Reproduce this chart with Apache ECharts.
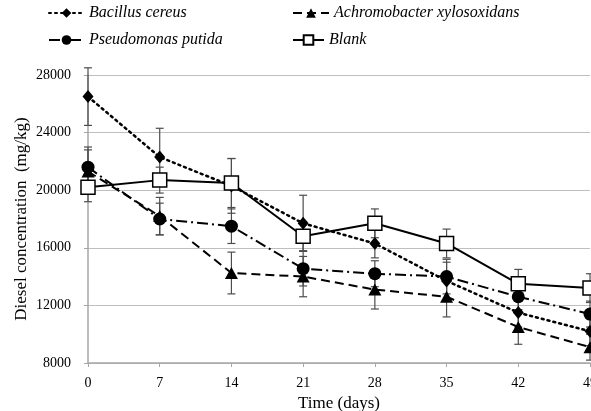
<!DOCTYPE html>
<html>
<head>
<meta charset="utf-8">
<script src="https://cdn.jsdelivr.net/npm/echarts@6/dist/echarts.min.js"></script>
<style>
  html, body { margin: 0; padding: 0; background: #fff; }
  #chart { width: 591px; height: 411px; }
</style>
</head>
<body>
<div id="chart"></div>
<script>
var days = ['0', '7', '14', '21', '28', '35', '42', '49'];
var yTicks = [8000, 12000, 16000, 20000, 24000, 28000];

var bacillus = [26500, 22300, 20300, 17700, 16300, 13700, 11500, 10200];
var bacillusErr = [2000, 2000, 1900, 1950, 1000, 1300, 1000, 1000];
var achromobacter = [21300, 18200, 14250, 14000, 13100, 12600, 10500, 9100];
var achromobacterErr = [1500, 1300, 1450, 1400, 1350, 1400, 1200, 900];
var pseudomonas = [21600, 18000, 17500, 14550, 14200, 14000, 12600, 11400];
var pseudomonasErr = [1400, 1100, 1200, 1200, 900, 1200, 900, 900];
var blank = [20200, 20700, 20500, 16800, 17700, 16300, 13500, 13200];
var blankErr = [1000, 900, 1700, 1000, 1000, 1000, 1000, 1000];

var font = 'Liberation Serif';

var chartDom = document.getElementById('chart');
var myChart = echarts.init(chartDom, null, { renderer: 'canvas' });

function errData(vals, errs) {
  return vals.map(function (v, i) { return [i, v - errs[i], v + errs[i]]; });
}

function errSeries(vals, errs) {
  return {
    type: 'custom',
    z: 1,
    silent: true,
    data: errData(vals, errs),
    encode: { x: 0, y: [1, 2] },
    renderItem: function (params, api) {
      var lo = api.coord([api.value(0), api.value(1)]);
      var hi = api.coord([api.value(0), api.value(2)]);
      var w = 4;
      var st = { stroke: '#4d4d4d', lineWidth: 1.2 };
      return {
        type: 'group',
        children: [
          { type: 'line', shape: { x1: lo[0], y1: lo[1], x2: hi[0], y2: hi[1] }, style: st },
          { type: 'line', shape: { x1: lo[0] - w, y1: lo[1], x2: lo[0] + w, y2: lo[1] }, style: st },
          { type: 'line', shape: { x1: hi[0] - w, y1: hi[1], x2: hi[0] + w, y2: hi[1] }, style: st }
        ]
      };
    }
  };
}

function legendAt(name, left, top, width) {
  return {
    data: [name],
    left: left,
    top: top,
    padding: 0,
    itemWidth: width,
    itemHeight: 12,
    selectedMode: false,
    textStyle: { fontFamily: font, fontStyle: 'italic', fontSize: 16, color: '#000' }
  };
}

var option = {
  backgroundColor: '#fff',
  animation: false,
  legend: [
    legendAt('Bacillus cereus', 48, 5, 35),
    legendAt('Achromobacter xylosoxidans', 292, 5, 36),
    legendAt('Pseudomonas putida', 48, 32, 35),
    legendAt('Blank', 292, 32, 31)
  ],
  grid: { left: 88, right: 1, top: 75, bottom: 48, outerBoundsMode: 'none' },
  xAxis: {
    type: 'category',
    data: days,
    boundaryGap: false,
    name: 'Time (days)',
    nameLocation: 'middle',
    nameGap: 31,
    nameTextStyle: { fontFamily: font, fontSize: 17, color: '#000' },
    axisLine: { lineStyle: { color: '#a6a6a6', width: 1.5 } },
    axisTick: { show: true, length: 4, alignWithLabel: true, lineStyle: { color: '#a6a6a6' } },
    axisLabel: { fontFamily: font, fontSize: 14, color: '#000', margin: 13 },
    splitLine: { show: false }
  },
  yAxis: {
    type: 'value',
    min: 8000,
    max: 28000,
    interval: 4000,
    name: 'Diesel concentration  (mg/kg)',
    nameLocation: 'middle',
    nameGap: 58,
    nameMoveOverlap: false,
    nameTextStyle: { fontFamily: font, fontSize: 17, color: '#000' },
    axisLine: { show: true, lineStyle: { color: '#a6a6a6', width: 1.5 } },
    axisTick: { show: true, length: 4, lineStyle: { color: '#a6a6a6' } },
    axisLabel: {
      fontFamily: font, fontSize: 14, color: '#000', margin: 17,
      formatter: function (v) { return yTicks.indexOf(v) >= 0 ? String(v) : ''; }
    },
    splitLine: { lineStyle: { color: '#bfbfbf', width: 1.2 } }
  },
  series: [
    errSeries(bacillus, bacillusErr),
    errSeries(achromobacter, achromobacterErr),
    errSeries(pseudomonas, pseudomonasErr),
    errSeries(blank, blankErr),
    {
      name: 'Bacillus cereus',
      type: 'line',
      z: 3,
      data: bacillus,
      symbol: 'diamond',
      symbolSize: [11, 13],
      itemStyle: { color: '#000' },
      lineStyle: { color: '#000', width: 2.5, type: [2, 4], cap: 'round' }
    },
    {
      name: 'Achromobacter xylosoxidans',
      type: 'line',
      z: 3,
      data: achromobacter,
      symbol: 'triangle',
      symbolSize: [13, 12],
      itemStyle: { color: '#000' },
      lineStyle: { color: '#000', width: 2, type: [9, 5] }
    },
    {
      name: 'Pseudomonas putida',
      type: 'line',
      z: 3,
      data: pseudomonas,
      symbol: 'circle',
      symbolSize: 13,
      itemStyle: { color: '#000' },
      lineStyle: { color: '#000', width: 2, type: [11, 4, 2, 4] }
    },
    {
      name: 'Blank',
      type: 'line',
      z: 4,
      data: blank,
      symbol: 'rect',
      symbolSize: 14,
      itemStyle: { color: '#fff', borderColor: '#000', borderWidth: 1.5 },
      lineStyle: { color: '#000', width: 2 }
    }
  ]
};

option && myChart.setOption(option);
</script>
</body>
</html>
